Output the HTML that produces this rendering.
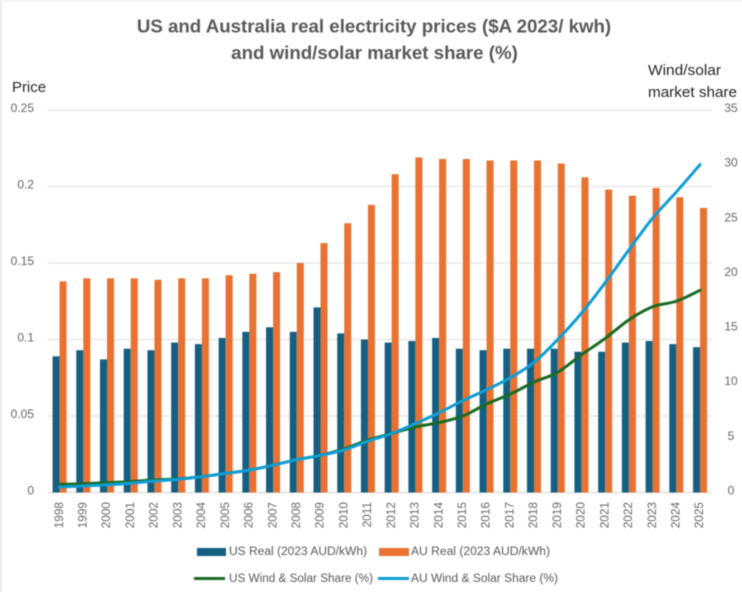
<!DOCTYPE html>
<html lang="en">
<head>
<meta charset="utf-8">
<title>US and Australia real electricity prices and wind/solar market share</title>
<style>
html,body{margin:0;padding:0;background:#fff;width:742px;height:592px;overflow:hidden}
svg{display:block;filter:blur(0.45px)}
text{font-family:"Liberation Sans",sans-serif}
</style>
</head>
<body>
<svg id="chart" width="742" height="592" viewBox="0 0 742 592" xmlns="http://www.w3.org/2000/svg">
  <rect x="0" y="0" width="742" height="592" fill="#ffffff"/>
  <rect x="0" y="0" width="1.5" height="592" fill="#e6e6e6"/>
  <rect x="0" y="0" width="742" height="1" fill="#ececec"/>
  <text x="374" y="32.5" text-anchor="middle" font-size="18.7" font-weight="700" fill="#595959">US and Australia real electricity prices ($A 2023/ kwh)</text>
  <text x="374.5" y="59" text-anchor="middle" font-size="18.7" font-weight="700" fill="#595959">and wind/solar market share (%)</text>
  <text x="12" y="92" font-size="14.5" fill="#262626" textLength="34" lengthAdjust="spacingAndGlyphs">Price</text>
  <text x="648" y="75" font-size="15" fill="#262626" textLength="73" lengthAdjust="spacingAndGlyphs">Wind/solar</text>
  <text x="648" y="97" font-size="15" fill="#262626" textLength="89" lengthAdjust="spacingAndGlyphs">market share</text>
  <g id="grid"></g>
  <g id="bars"></g>
  <g id="lines"></g>
  <g id="axes"></g>
  <g>
    <rect x="197" y="548" width="29" height="8" fill="#156082"/>
    <text x="229" y="555" font-size="11.5" fill="#595959" textLength="138" lengthAdjust="spacingAndGlyphs">US Real (2023 AUD/kWh)</text>
    <rect x="379" y="548" width="30" height="8" fill="#E97132"/>
    <text x="411" y="555" font-size="11.5" fill="#595959" textLength="139" lengthAdjust="spacingAndGlyphs">AU Real (2023 AUD/kWh)</text>
    <line x1="194" y1="578.5" x2="225" y2="578.5" stroke="#196B24" stroke-width="3"/>
    <text x="229" y="582" font-size="11.5" fill="#595959" textLength="144" lengthAdjust="spacingAndGlyphs">US Wind &amp; Solar Share (%)</text>
    <line x1="378" y1="578.5" x2="409" y2="578.5" stroke="#0F9ED5" stroke-width="3"/>
    <text x="411" y="582" font-size="11.5" fill="#595959" textLength="147" lengthAdjust="spacingAndGlyphs">AU Wind &amp; Solar Share (%)</text>
  </g>
</svg>
<script>
const years = [1998,1999,2000,2001,2002,2003,2004,2005,2006,2007,2008,2009,2010,2011,2012,2013,2014,2015,2016,2017,2018,2019,2020,2021,2022,2023,2024,2025];
const usReal = [0.089,0.093,0.087,0.094,0.093,0.098,0.097,0.101,0.105,0.108,0.105,0.121,0.104,0.100,0.098,0.099,0.101,0.094,0.093,0.094,0.094,0.094,0.092,0.092,0.098,0.099,0.097,0.095];
const auReal = [0.138,0.140,0.140,0.140,0.139,0.140,0.140,0.142,0.143,0.144,0.150,0.163,0.176,0.188,0.208,0.219,0.218,0.218,0.217,0.217,0.217,0.215,0.206,0.198,0.194,0.199,0.193,0.186];
const usShare = [0.75,0.8,0.9,1.0,1.15,1.25,1.45,1.75,2.05,2.5,3.0,3.4,4.0,4.8,5.4,6.0,6.4,7.0,8.1,9.0,10.1,11.0,12.6,14.1,15.8,17.0,17.5,18.5];
const auShare = [0.5,0.6,0.7,0.85,1.05,1.2,1.45,1.75,2.05,2.5,3.0,3.4,3.9,4.7,5.4,6.3,7.3,8.4,9.4,10.5,11.9,14.0,16.4,19.2,22.2,25.1,27.5,30.0];
const priceTicks = [0,0.05,0.1,0.15,0.2,0.25];
const shareTicks = [0,5,10,15,20,25,30,35];

const plotLeft = 47.7, plotRight = 711.9, plotTop = 110, plotBottom = 492.5;
const barWidth = 7;
const svgNS = 'http://www.w3.org/2000/svg';
const step = (plotRight - plotLeft) / years.length;

function xAt(i) { return plotLeft + step * (i + 0.5); }
function yPrice(v) { return plotBottom - (v / 0.25) * (plotBottom - plotTop); }
function yShare(v) { return plotBottom - (v / 35) * (plotBottom - plotTop); }
function make(tag, attrs, parent) {
  const el = document.createElementNS(svgNS, tag);
  for (const k in attrs) el.setAttribute(k, attrs[k]);
  parent.appendChild(el);
  return el;
}
function smoothPath(values) {
  const pts = values.map((v, i) => [xAt(i), yShare(v)]);
  let d = 'M' + pts[0][0] + ' ' + pts[0][1];
  for (let i = 0; i < pts.length - 1; i++) {
    const p0 = pts[Math.max(i - 1, 0)], p1 = pts[i], p2 = pts[i + 1], p3 = pts[Math.min(i + 2, pts.length - 1)];
    const c1x = p1[0] + (p2[0] - p0[0]) / 6, c1y = p1[1] + (p2[1] - p0[1]) / 6;
    const c2x = p2[0] - (p3[0] - p1[0]) / 6, c2y = p2[1] - (p3[1] - p1[1]) / 6;
    d += ' C' + c1x + ' ' + c1y + ' ' + c2x + ' ' + c2y + ' ' + p2[0] + ' ' + p2[1];
  }
  return d;
}

const gridG = document.getElementById('grid');
const barsG = document.getElementById('bars');
const linesG = document.getElementById('lines');
const axesG = document.getElementById('axes');

priceTicks.forEach(function (t) {
  const line = make('line', {x1: plotLeft, x2: plotRight, y1: yPrice(t), y2: yPrice(t), stroke: t === 0 ? '#d9d9d9' : '#e4e4e4', 'stroke-width': 1.2}, gridG);
  
  
  const label = make('text', {x: 34, y: yPrice(t) + 2, 'text-anchor': 'end', 'font-size': 12, fill: '#666666'}, axesG);
  label.textContent = String(t);
  
  
});

shareTicks.forEach(function (t) {
  const label = make('text', {x: 731, y: yShare(t) + 2, 'text-anchor': 'middle', 'font-size': 12, fill: '#666666'}, axesG);
  label.textContent = String(t);
  
  
});

years.forEach(function (yr, i) {
  const x = xAt(i);
  const usBar = make('rect', {x: x - barWidth, y: yPrice(usReal[i]), width: barWidth, height: plotBottom - yPrice(usReal[i]), fill: '#156082'}, barsG);
  
  
  const auBar = make('rect', {x: x, y: yPrice(auReal[i]), width: barWidth, height: plotBottom - yPrice(auReal[i]), fill: '#E97132'}, barsG);
  
  
  const label = make('text', {transform: 'translate(' + (x + 3.2) + ' 502) rotate(-90)', 'text-anchor': 'end', 'font-size': 11.8, fill: '#666666'}, axesG);
  label.textContent = String(yr);
  
  
});

const usLine = make('path', {d: smoothPath(usShare), fill: 'none', stroke: '#196B24', 'stroke-width': 3, 'stroke-linecap': 'round', 'stroke-linejoin': 'round'}, linesG);


const auLine = make('path', {d: smoothPath(auShare), fill: 'none', stroke: '#0F9ED5', 'stroke-width': 3, 'stroke-linecap': 'round', 'stroke-linejoin': 'round'}, linesG);


</script>
</body>
</html>
